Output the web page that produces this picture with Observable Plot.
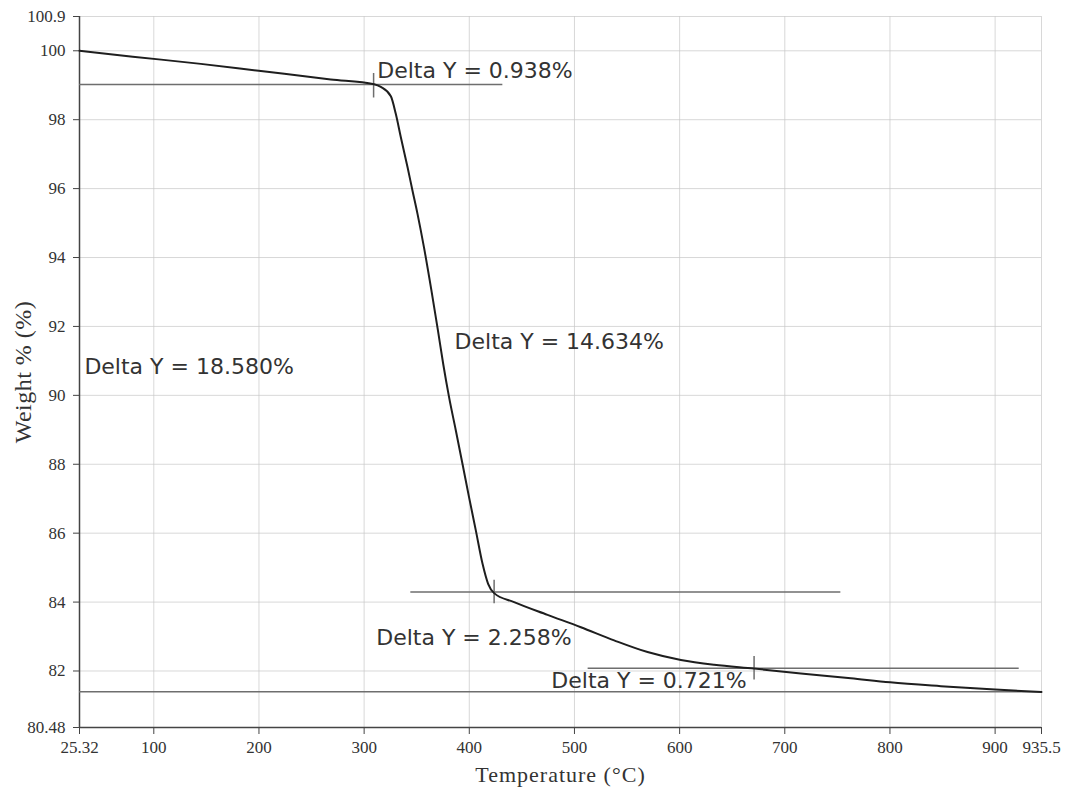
<!DOCTYPE html>
<html>
<head>
<meta charset="utf-8">
<script src="https://cdn.jsdelivr.net/npm/d3@7"></script>
<script src="https://cdn.jsdelivr.net/npm/@observablehq/plot@0.6"></script>
<style>
  html, body { margin: 0; padding: 0; background: #fff; }
  #chart { width: 1072px; height: 791px; }
  #chart svg .title-x text { letter-spacing: 1px; }
  #chart svg .title-y text { letter-spacing: 0.5px; }
</style>
</head>
<body>
<div id="chart"></div>
<script>
// TGA curve: temperature (°C) and weight (%)
const temperature = [29.35, 80.0, 144.7, 199.8, 268.3, 309.5, 315.9, 325.4, 330.1, 334.9, 341.3, 346.0, 350.8, 357.0, 363.9, 370.1, 375.2, 380.8, 387.2, 393.6, 399.8, 406.2, 412.6, 417.9, 423.6, 442.6, 474.4, 506.1, 537.7, 569.5, 601.2, 632.8, 670.8, 715.3, 762.8, 800.2, 848.4, 900.0, 944.1];
const weight      = [100.00, 99.83, 99.62, 99.42, 99.17, 99.03, 98.95, 98.68, 98.17, 97.49, 96.62, 95.94, 95.26, 94.28, 93.06, 91.90, 90.91, 89.94, 88.98, 88.00, 87.04, 86.08, 85.11, 84.53, 84.26, 84.00, 83.63, 83.27, 82.89, 82.55, 82.32, 82.18, 82.07, 81.93, 81.79, 81.67, 81.56, 81.46, 81.39];

// axis ticks
const xTickValues = [29.35, 100, 200, 300, 400, 500, 600, 700, 800, 900, 944.1];
const xTickLabels = ["25.32", "100", "200", "300", "400", "500", "600", "700", "800", "900", "935.5"];
const yTickValues = [80.36, 82, 84, 86, 88, 90, 92, 94, 96, 98, 100, 100.995];
const yTickLabels = ["80.48", "82", "84", "86", "88", "90", "92", "94", "96", "98", "100", "100.9"];

// step-analysis reference lines
const refY  = [99.02, 84.29, 82.08, 81.40];
const refX1 = [29.35, 344.4, 513.0, 29.35];
const refX2 = [431.9, 753.3, 922.9, 944.1];

// step markers
const markX  = [309.0, 423.6, 670.8];
const markY1 = [99.34, 84.63, 82.42];
const markY2 = [98.63, 83.95, 81.74];

// annotation labels
const noteText = ["Delta Y = 0.938%", "Delta Y = 14.634%", "Delta Y = 18.580%", "Delta Y = 2.258%", "Delta Y = 0.721%"];
const noteX    = [312.5, 386.0, 34.0, 311.5, 478.0];
const noteY    = [99.21, 91.35, 90.61, 82.75, 81.50];

const xTitle = "Temperature (°C)";
const yTitle = "Weight % (%)";

const curve = temperature.map((t, i) => ({t, w: weight[i]}));
const refs = refY.map((y, i) => ({y, x1: refX1[i], x2: refX2[i]}));
const marks = markX.map((x, i) => ({x, y1: markY1[i], y2: markY2[i]}));
const notes = noteText.map((s, i) => ({s, x: noteX[i], y: noteY[i]}));
const xLab = new Map(xTickValues.map((v, i) => [v, xTickLabels[i]]));
const yLab = new Map(yTickValues.map((v, i) => [v, yTickLabels[i]]));

const xDomain = [xTickValues[0], xTickValues[xTickValues.length - 1]];
const yDomain = [yTickValues[0], yTickValues[yTickValues.length - 1]];

const chart = Plot.plot({
  width: 1072,
  height: 791,
  marginLeft: 79,
  marginRight: 31,
  marginTop: 16,
  marginBottom: 64,
  x: {domain: xDomain},
  y: {domain: yDomain},
  style: {fontFamily: "'Liberation Serif', serif", fontSize: "17px", color: "#333", background: "#fff"},
  marks: [
    Plot.gridX(xTickValues, {stroke: "#c8c8c8", strokeOpacity: 0.7}),
    Plot.gridY(yTickValues, {stroke: "#c8c8c8", strokeOpacity: 0.7}),
    Plot.axisX(xTickValues, {tickFormat: d => xLab.get(d), tickSize: 7, tickPadding: 6, label: null, stroke: "#444", fill: "#333", fontSize: 17}),
    Plot.axisY(yTickValues, {tickFormat: d => yLab.get(d), tickSize: 6, tickPadding: 8, label: null, stroke: "#444", fill: "#333", fontSize: 17}),
    Plot.ruleX([xDomain[0]], {stroke: "#444", strokeWidth: 1.5}),
    Plot.ruleY([yDomain[0]], {stroke: "#444", strokeWidth: 1.5}),
    Plot.ruleY(refs, {y: "y", x1: "x1", x2: "x2", stroke: "#6e6e6e", strokeWidth: 1.5}),
    Plot.ruleX(marks, {x: "x", y1: "y1", y2: "y2", stroke: "#6e6e6e", strokeWidth: 1.5}),
    Plot.line(curve, {x: "t", y: "w", curve: "monotone-x", stroke: "#1e1e1e", strokeWidth: 2}),
    Plot.text(notes, {x: "x", y: "y", text: "s", textAnchor: "start", lineAnchor: "bottom", fontFamily: "'DejaVu Sans', sans-serif", fontSize: 22, fill: "#333"}),
    Plot.text([xTitle], {frameAnchor: "bottom", textAnchor: "middle", lineAnchor: "bottom", dy: 54, fontSize: 22, fill: "#333", className: "title-x"}),
    Plot.text([yTitle], {frameAnchor: "left", textAnchor: "middle", dx: -56, rotate: -90, fontSize: 24, fill: "#333", className: "title-y"})
  ]
});
document.getElementById("chart").appendChild(chart);
</script>
</body>
</html>
